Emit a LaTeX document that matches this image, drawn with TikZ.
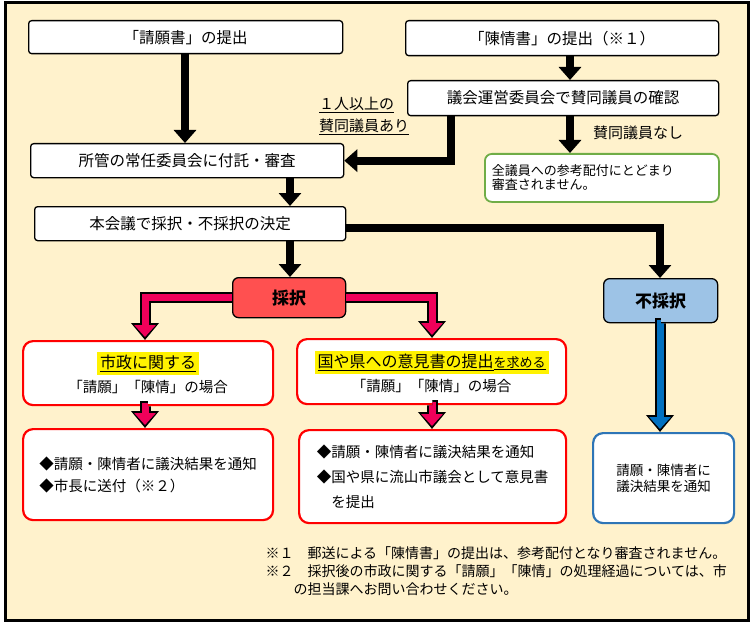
\documentclass[tikz,border=0pt]{standalone}
\usepackage{fontspec}
\setmainfont{Noto Sans CJK JP}
\usetikzlibrary{arrows.meta,positioning}
\definecolor{cream}{HTML}{FFF2CC}
\definecolor{pinkarr}{HTML}{F0005A}
\definecolor{redbox}{HTML}{FF5050}
\definecolor{bluebox}{HTML}{9DC3E6}
\definecolor{bluearr}{HTML}{0070C0}
\definecolor{bluedraw}{HTML}{2E75B6}
\definecolor{greendraw}{HTML}{70AD47}
\begin{document}
\begin{tikzpicture}[x=1pt,y=-1pt]
  \tikzset{main node/.style={rectangle, draw, line width=1.3pt, fill=white,
  		rounded corners=3pt, anchor=north west, align=center,
  		font=\fontsize{15.5}{18}\selectfont}, }
  \tikzset{red node/.style={rectangle, draw=red, line width=2.2pt, fill=white,
  		rounded corners=10pt, anchor=north west, align=center,
  		font=\fontsize{14.5}{22}\selectfont}, }
  \tikzset{blk/.style={line width=8pt, -{Triangle[width=22pt,length=13pt]}}, }
  \tikzset{outl/.style={line width=11pt, -{Triangle[width=27pt,length=17pt]}}, }
  \tikzset{note/.style={font=\fontsize{14}{18}\selectfont, align=left}, }
  \useasboundingbox (0,0) rectangle (755,623);
  \draw[line width=3pt, fill=cream] (5,3) rectangle (748,620);
\node[main node, minimum width=314, minimum height=33] (sg) at (28,20) {「請願書」の提出};
\node[main node, minimum width=313, minimum height=35] (cj) at (405,20) {「陳情書」の提出（※１）};
\node[main node, minimum width=311, minimum height=35] (gu) at (407,80) {議会運営委員会で賛同議員の確認};
\node[main node, minimum width=313, minimum height=34] (sn) at (30,143) {所管の常任委員会に付託・審査};
\node[main node, draw=greendraw, line width=1.8pt, rounded corners=7pt, minimum width=234,
  minimum height=48, align=left, font=\fontsize{13}{14}\selectfont, text width=220] (zg) at (484,153)
  {全議員への参考配付にとどまり\\審査されません。};
\node[main node, minimum width=311, minimum height=34] (hk) at (34,206) {本会議で採択・不採択の決定};
\node[main node, fill=redbox, rounded corners=6pt, minimum width=113, minimum height=40,
  font=\fontsize{17}{19}\bfseries\selectfont] (st) at (232,277) {採択};
\node[main node, fill=bluebox, rounded corners=6pt, minimum width=114, minimum height=44,
  font=\fontsize{17}{19}\bfseries\selectfont] (fs) at (603,278) {不採択};
\node[red node, minimum width=250, minimum height=64] (sk) at (22,340)
  {\colorbox{yellow}{\fontsize{16}{18}\selectfont\underline{市政に関する}}\\[2pt]「請願」「陳情」の場合};
\node[red node, minimum width=269, minimum height=65] (ky) at (296,338)
  {\colorbox{yellow}{\fontsize{16}{18}\selectfont\underline{国や県への意見書の提出}\underline{\fontsize{13}{14}\selectfont を求める}}\\[2pt]「請願」「陳情」の場合};
\node[red node, minimum width=250, minimum height=91, align=left] (sk2) at (22,428)
  {◆請願・陳情者に議決結果を通知\\◆市長に送付（※２）};
\node[red node, minimum width=267, minimum height=93, align=left, font=\fontsize{14.5}{25}\selectfont] (ky2) at (298,429)
  {◆請願・陳情者に議決結果を通知\\◆国や県に流山市議会として意見書\\\hphantom{◆}を提出};
\node[red node, draw=bluedraw, minimum width=141, minimum height=90,
  font=\fontsize{13.5}{16}\selectfont] (fs2) at (592,432) {請願・陳情者に\\議決結果を通知};
\node[note, font=\fontsize{15}{22}\selectfont] (ar) at (364,116) {\underline{１人以上の}\\\underline{賛同議員あり}};
\node[note, font=\fontsize{15}{16}\selectfont] (ns) at (638,133) {賛同議員なし};
\node[note, anchor=north west] (fn) at (262,543)
  {※１\quad 郵送による「陳情書」の提出は、参考配付となり審査されません。\\
   ※２\quad 採択後の市政に関する「請願」「陳情」の処理経過については、市\\
   \hphantom{※２}の担当課へお問い合わせください。};
% black arrows
\draw[blk] (sg.south -| 185,0) -- (sn.north -| 185,0);
\draw[blk] (cj.south -| 570,0) -- (gu.north -| 570,0);
\draw[blk] (gu.south -| 570,0) -- (zg.north -| 570,0);
\draw[blk] (gu.south -| 451,0) |- (sn.east);
\draw[blk] (sn.south -| 290,0) -- (hk.north -| 290,0);
\draw[blk] (hk.south -| 290,0) -- (st.north -| 290,0);
\draw[blk, rounded corners=0] (hk.east |- 0,228) -| (fs.north -| 660,0);
% coloured arrows
\foreach \a/\b/\x/\c in {st.west/sk/145/pinkarr, st.east/ky/432/pinkarr,
    sk.south/sk2/145/pinkarr, ky.south/ky2/432/pinkarr, fs.south/fs2/660/bluearr}
{
  \draw[outl] (\a) -| (\b.north -| \x,0);
  \draw[line width=7pt, \c, -{Triangle[width=21pt,length=12pt]}, shorten >=3pt]
    (\a) -| (\b.north -| \x,0);
}
\end{tikzpicture}
\end{document}
